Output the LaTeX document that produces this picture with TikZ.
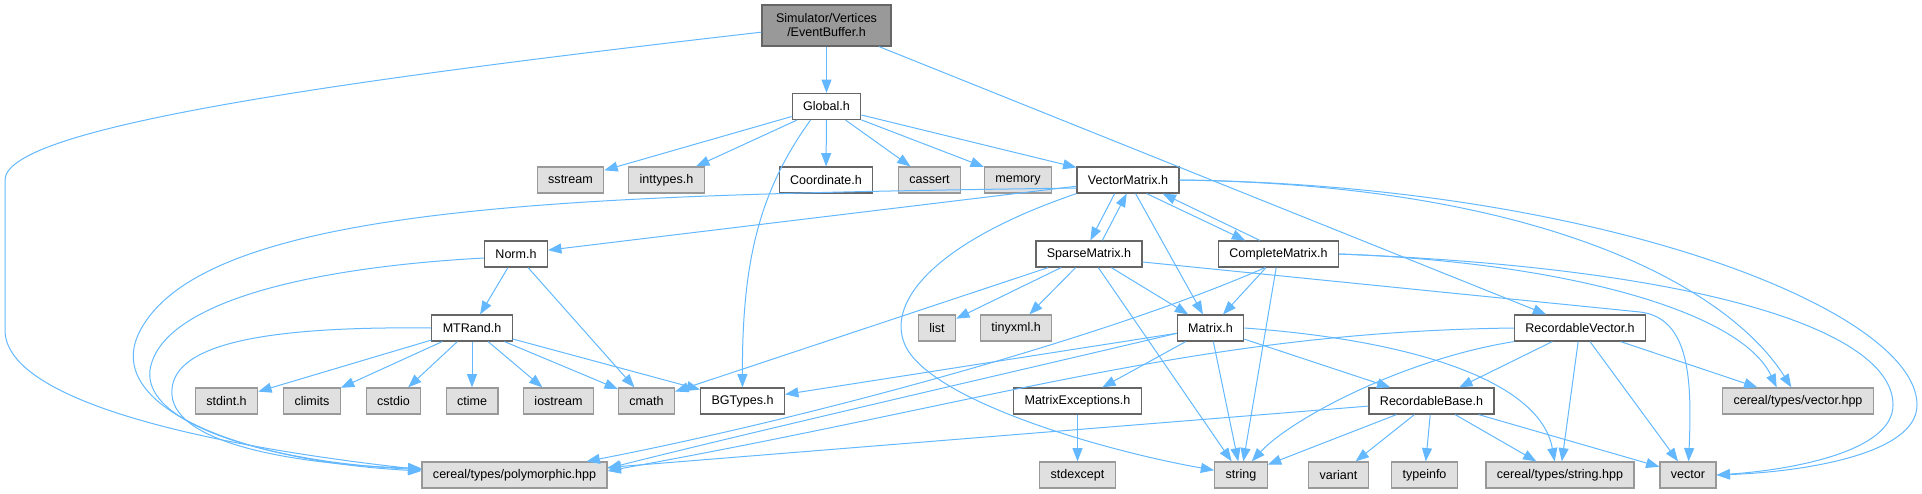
\documentclass[tikz,border=0pt]{standalone}
\usepackage{fontspec}
\setmainfont{Liberation Sans}
\usetikzlibrary{arrows.meta}
\definecolor{edgeblue}{HTML}{63B8FF}
\definecolor{docborder}{HTML}{666666}
\definecolor{sysborder}{HTML}{999999}
\definecolor{sysfill}{HTML}{E0E0E0}
\definecolor{rootfill}{HTML}{999999}

\begin{document}
\begin{tikzpicture}[
  x=0.75pt, y=-0.75pt,
  font=\fontsize{9.4pt}{10.5pt}\selectfont,
  hdr/.style  = {draw, line width=0.9pt, align=center, inner xsep=8.2pt,
                 inner ysep=0pt, minimum height=19.5pt},
  file/.style = {hdr, draw=docborder, fill=white},
  sys/.style  = {hdr, draw=sysborder, fill=sysfill},
  root/.style = {hdr, draw=docborder, fill=rootfill,
                 minimum width=96.75pt, minimum height=30.75pt},
  arr/.style  = {-{Triangle[length=10pt,width=7.5pt]}, line width=0.75pt, edgeblue},
]
\useasboundingbox (0,0) rectangle (1922,493);
% layer 1: the file itself
\node[root] (eventbuf) at (826.5,25.5) {Simulator/Vertices\\/EventBuffer.h};
\node[file] (global) at (826.5,106.5) {Global.h};
% layer 2
\node[sys]  (sstream)  at (570.5,180) {sstream};
\node[sys]  (inttypes) at (666.5,180) {inttypes.h};
\node[file] (coord)    at (826,180)   {Coordinate.h};
\node[sys]  (cassert)  at (929.5,180) {cassert};
\node[sys]  (memory)   at (1018,180)  {memory};
\node[file] (vecmat)   at (1128,180)  {VectorMatrix.h};
% layer 3
\node[file] (norm)     at (516,254)    {Norm.h};
\node[file] (sparse)   at (1089,254)   {SparseMatrix.h};
\node[file] (complete) at (1278.5,254) {CompleteMatrix.h};
% layer 4
\node[file] (mtrand)  at (472,328)    {MTRand.h};
\node[sys]  (list)    at (937,328)    {list};
\node[sys]  (tinyxml) at (1016,328)   {tinyxml.h};
\node[file] (matrix)  at (1210.5,328) {Matrix.h};
\node[file] (recvec)  at (1580,328)   {RecordableVector.h};
% layer 5
\node[sys]  (stdint)   at (226.5,401)  {stdint.h};
\node[sys]  (climits)  at (312,401)    {climits};
\node[sys]  (cstdio)   at (393.5,401)  {cstdio};
\node[sys]  (ctime)    at (472,401)    {ctime};
\node[sys]  (iostream) at (558.5,401)  {iostream};
\node[sys]  (cmath)    at (646.5,401)  {cmath};
\node[file] (bgtypes)  at (742.5,401)  {BGTypes.h};
\node[file] (matexc)   at (1077.5,401) {MatrixExceptions.h};
\node[file] (recbase)  at (1431.5,401) {RecordableBase.h};
\node[sys]  (vechpp)   at (1798,401)   {cereal/types/vector.hpp};
% layer 6
\node[sys] (poly)      at (514.5,475)  {cereal/types/polymorphic.hpp};
\node[sys] (stdexcept) at (1077.5,475) {stdexcept};
\node[sys] (string)    at (1241,475)   {string};
\node[sys] (variant)   at (1338.5,475) {variant};
\node[sys] (typeinfo)  at (1424.5,475) {typeinfo};
\node[sys] (strhpp)    at (1560,475)   {cereal/types/string.hpp};
\node[sys] (vector)    at (1688,475)   {vector};
% edges: EventBuffer.h
\draw[arr] (eventbuf) -- (global);
\draw[arr] (eventbuf) -- (recvec);
\draw[arr] ([yshift=-5pt]eventbuf.west) .. controls (300,85) and (5,130) .. (5,180) -- (5,330)
  .. controls (5,400) and (200,445) .. ([yshift=4pt]poly.west);
% edges: Global.h
\draw[arr] (global) -- (sstream);
\draw[arr] (global) -- (inttypes);
\draw[arr] (global) -- (coord);
\draw[arr] (global) -- (cassert);
\draw[arr] (global) -- (memory);
\draw[arr] (global) -- (vecmat);
\draw[arr] ([xshift=-12pt]global.south) .. controls (760,190) and (742,260) .. (bgtypes);
% edges: VectorMatrix.h
\draw[arr] (vecmat) -- (norm);
\draw[arr] ([yshift=-6pt]vecmat.west) .. controls (600,195) and (200,200) .. (138,335)
  .. controls (105,410) and (250,462) .. ([yshift=3pt]poly.west);
\draw[arr] ([xshift=-10pt]vecmat.south) -- ([xshift=1pt]sparse.north);
\draw[arr] ([xshift=14pt]vecmat.south) -- ([xshift=-25pt]complete.north);
\draw[arr] (vecmat) -- (matrix);
\draw[arr] (vecmat.south west) .. controls (940,240) and (885,300) .. (905,345)
  .. controls (930,400) and (1100,450) .. (string);
\draw[arr] (vecmat.east) .. controls (1550,185) and (1730,290) .. ([xshift=-5pt]vechpp.north);
\draw[arr] (vecmat.east) .. controls (1600,185) and (1917,310) .. (1917,405)
  .. controls (1917,455) and (1800,472) .. (vector.east);
% edges: SparseMatrix.h
\draw[arr] ([xshift=10pt]sparse.north) -- ([xshift=-1pt]vecmat.south);
\draw[arr] (sparse) -- (list);
\draw[arr] (sparse) -- (tinyxml);
\draw[arr] (sparse) -- (cmath);
\draw[arr] (sparse) -- (matrix);
\draw[arr] (sparse) -- (string);
\draw[arr] ([yshift=-6pt]sparse.east) -- (1640,312) .. controls (1690,318) and (1692,380) .. (vector);
% edges: CompleteMatrix.h
\draw[arr] ([xshift=-14pt]complete.north) -- ([xshift=26pt]vecmat.south);
\draw[arr] (complete) -- (matrix);
\draw[arr] (complete) -- (string);
\draw[arr] ([xshift=-10pt]complete.south) .. controls (1100,340) and (800,420) .. ([xshift=54pt]poly.north);
\draw[arr] (complete.east) .. controls (1560,262) and (1740,310) .. ([xshift=-16pt]vechpp.north);
\draw[arr] (complete.east) .. controls (1700,268) and (1893,330) .. (1893,405)
  .. controls (1893,452) and (1790,470) .. (vector.east);
% edges: Norm.h, MTRand.h
\draw[arr] (norm) -- (mtrand);
\draw[arr] (norm) -- (cmath);
\draw[arr] ([yshift=-3pt]norm.west) .. controls (300,268) and (160,305) .. (150,370)
  .. controls (143,425) and (270,462) .. ([yshift=4pt]poly.west);
\draw[arr] (mtrand) -- (stdint);
\draw[arr] (mtrand) -- (climits);
\draw[arr] (mtrand) -- (cstdio);
\draw[arr] (mtrand) -- (ctime);
\draw[arr] (mtrand) -- (iostream);
\draw[arr] (mtrand) -- (cmath);
\draw[arr] (mtrand) -- (bgtypes);
\draw[arr] (mtrand.west) .. controls (260,326) and (168,345) .. (172,395)
  .. controls (176,445) and (300,465) .. ([yshift=5pt]poly.west);
% edges: Matrix.h
\draw[arr] (matrix) -- (bgtypes);
\draw[arr] ([yshift=-4pt]matrix.west) .. controls (1000,375) and (760,430) .. ([yshift=5pt]poly.east);
\draw[arr] (matrix) -- (matexc);
\draw[arr] (matrix) -- (string);
\draw[arr] (matrix) -- (recbase);
\draw[arr] (matrix.east) .. controls (1410,340) and (1540,380) .. ([xshift=-4pt]strhpp.north);
% edges: RecordableVector.h
\draw[arr] (recvec.west) .. controls (1200,332) and (1000,400) .. ([yshift=3pt]poly.east);
\draw[arr] (recvec.south west) .. controls (1400,360) and (1290,420) .. ([xshift=8pt]string.north);
\draw[arr] (recvec) -- (recbase);
\draw[arr] (recvec) -- (strhpp);
\draw[arr] (recvec) -- (vector);
\draw[arr] (recvec) -- (vechpp);
% edges: RecordableBase.h, MatrixExceptions.h
\draw[arr] (recbase) -- (poly);
\draw[arr] (recbase) -- (string);
\draw[arr] (recbase) -- (variant);
\draw[arr] (recbase) -- (typeinfo);
\draw[arr] (recbase) -- (strhpp);
\draw[arr] (recbase) -- (vector);
\draw[arr] (matexc) -- (stdexcept);
\end{tikzpicture}
\end{document}
